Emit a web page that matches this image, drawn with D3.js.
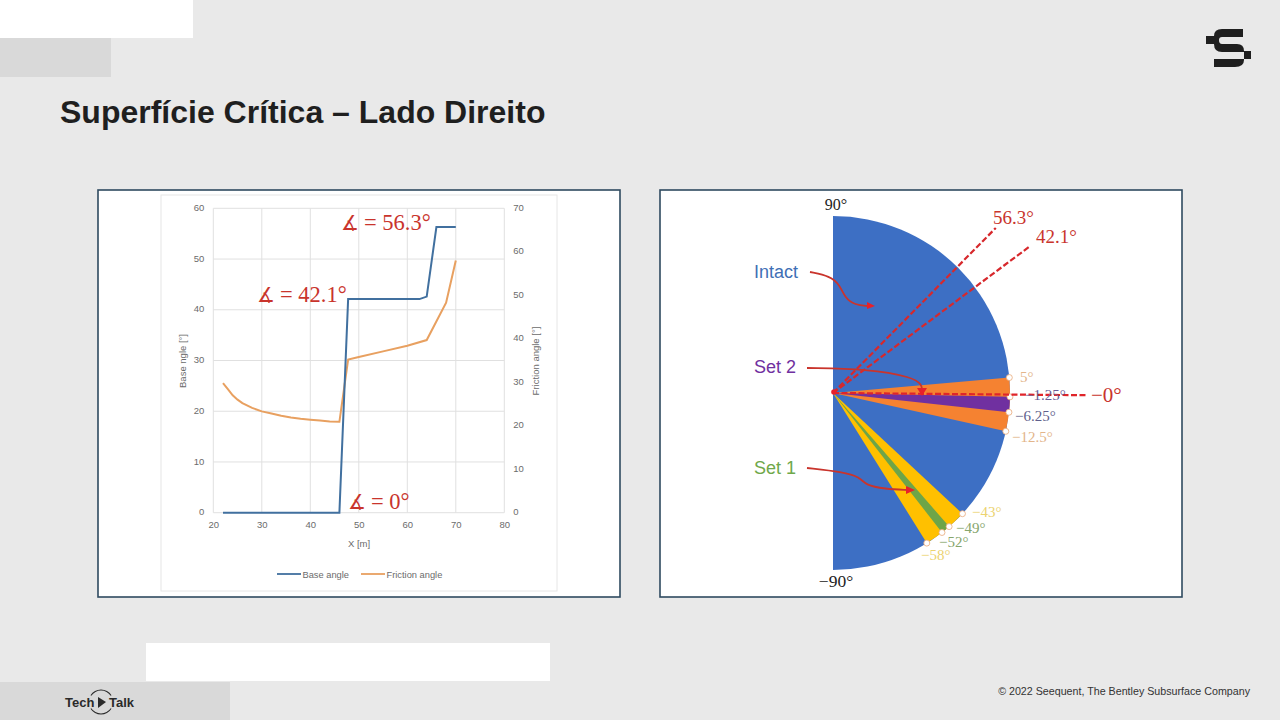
<!DOCTYPE html>
<html>
<head>
<meta charset="utf-8">
<script src="https://cdn.jsdelivr.net/npm/d3@7"></script>
<style>
  html, body { margin: 0; padding: 0; background: #e9e9e9; }
  svg { display: block; }
  text { font-family: "Liberation Sans", Arial, sans-serif; }
  .math { font-family: "Liberation Serif", serif; }
</style>
</head>
<body>
<svg id="slide" width="1280" height="720"></svg>
<script>
// left chart data
const baseX = [22, 46, 47.8, 62.5, 64, 66, 70];
const baseAngle = [0, 0, 42.1, 42.1, 42.6, 56.3, 56.3];
const frictionX = [22, 23, 24, 25, 26, 28, 30, 32, 34, 36, 38, 40, 42, 44, 46, 47.8, 50, 55, 60, 64, 68, 70];
const frictionAngle = [29.8, 28.4, 27, 26, 25.2, 24.1, 23.3, 22.8, 22.3, 21.9, 21.6, 21.4, 21.2, 21, 20.9, 35.2, 35.8, 37.1, 38.4, 39.7, 48.3, 58];
const xTicks = [20, 30, 40, 50, 60, 70, 80];
const leftTicks = [0, 10, 20, 30, 40, 50, 60];
const rightTicks = [0, 10, 20, 30, 40, 50, 60, 70];

// right chart data (degrees)
const orangeBand = [5, -12.5];
const purpleBand = [-1.25, -6.25];
const yellowBand = [-43, -58];
const greenBand = [-49, -52];
const edgeAngles = [5, -1.25, -6.25, -12.5, -43, -49, -52, -58];
const edgeLabels = ["5°", "−1.25°", "−6.25°", "−12.5°", "−43°", "−49°", "−52°", "−58°"];
const edgeColors = ["#e3b58a", "#6a5a96", "#5f5f8c", "#e3b58a", "#ecd36f", "#86a56c", "#86a56c", "#ecd36f"];
const refLabels = ["56.3°", "42.1°", "−0°"];
// the reference lines are hand placed, so they sit off their nominal angle
const refDrawnAngles = [45.4, 36.7, -0.5];
const refReach = [1.31, 1.39, 1.435];

const RED = "#c9342c";
const svg = d3.select("#slide");

function rect(x, y, w, h, fill, stroke) {
  return svg.append("rect").attr("x", x).attr("y", y).attr("width", w).attr("height", h)
    .attr("fill", fill).attr("stroke", stroke || "none");
}

// slide background blocks
rect(0, 0, 1280, 720, "#e9e9e9");
rect(0, 0, 193, 38, "#ffffff");
rect(0, 38, 111, 39, "#d9d9d9");
rect(146, 643, 404, 38, "#ffffff");
rect(0, 682, 230, 38, "#d9d9d9");

svg.append("text").attr("x", 60).attr("y", 123)
  .attr("font-size", 32).attr("font-weight", 700).attr("fill", "#1f1f1f")
  .text("Superfície Crítica – Lado Direito");

// logo
const logo = svg.append("g").attr("fill", "#1f1f1f");
logo.append("path").attr("d", "M1243 29V37H1222Q1219 37 1219 40Q1219 44 1222 44H1237Q1244 44 1244 51V52H1222Q1214 52 1214 44V36Q1214 29 1222 29Z");
logo.append("path").attr("d", "M1214 59H1244V60Q1244 67 1235 67H1214Z");
logo.append("rect").attr("x", 1206).attr("y", 36).attr("width", 8).attr("height", 8);
logo.append("rect").attr("x", 1244).attr("y", 51).attr("width", 7).attr("height", 8);

// tech talk mark
svg.append("text").attr("x", 65).attr("y", 707).attr("font-size", 13).attr("font-weight", 700).attr("fill", "#2a2a2a").text("Tech");
svg.append("text").attr("x", 109).attr("y", 707).attr("font-size", 13).attr("font-weight", 700).attr("fill", "#2a2a2a").text("Talk");
const techArc = d3.arc().innerRadius(11.5).outerRadius(12.5);
[[-1, 1], [Math.PI - 1, Math.PI + 1]].forEach(a => {
  svg.append("path").attr("transform", "translate(101,702)")
    .attr("d", techArc({ startAngle: a[0], endAngle: a[1] })).attr("fill", "#2a2a2a");
});
svg.append("path").attr("d", "M98 697L106 702L98 708Z").attr("fill", "#2a2a2a");

svg.append("text").attr("x", 1250).attr("y", 695).attr("text-anchor", "end")
  .attr("font-size", 10.7).attr("fill", "#333333")
  .text("© 2022 Seequent, The Bentley Subsurface Company");

// panels
rect(98, 190, 522, 407, "#ffffff", "#2f4a60").attr("stroke-width", 1.6);
rect(660, 190, 522, 407, "#ffffff", "#2f4a60").attr("stroke-width", 1.6);
rect(161, 195, 396, 396, "#ffffff", "#e6e6e6");

// ---- left chart ----
const x = d3.scaleLinear().domain([20, 80]).range([213.3, 504.3]);
const yLeft = d3.scaleLinear().domain([0, 60]).range([512.7, 208.3]);
const yRight = d3.scaleLinear().domain([0, 70]).range([512.7, 208.3]);

const grid = svg.append("g").attr("stroke", "#e0e0e0").attr("stroke-width", 1);
grid.selectAll(".gx").data(xTicks).join("line")
  .attr("x1", d => x(d)).attr("x2", d => x(d)).attr("y1", yLeft(0)).attr("y2", yLeft(60));
grid.selectAll(".gy").data(leftTicks).join("line")
  .attr("x1", x(20)).attr("x2", x(80)).attr("y1", d => yLeft(d)).attr("y2", d => yLeft(d));

function styleAxis(g) {
  g.select(".domain").remove();
  g.selectAll(".tick line").remove();
  g.selectAll("text").attr("font-size", 9.5).attr("fill", "#6b6b6b")
    .attr("font-family", '"Liberation Sans", Arial, sans-serif');
}
svg.append("g").attr("transform", `translate(0,${yLeft(0) + 2})`)
  .call(d3.axisBottom(x).tickValues(xTicks).tickSize(0).tickPadding(7)).call(styleAxis);
svg.append("g").attr("transform", `translate(${x(20)},-1)`)
  .call(d3.axisLeft(yLeft).tickValues(leftTicks).tickSize(0).tickPadding(9)).call(styleAxis);
svg.append("g").attr("transform", `translate(${x(80)},-1)`)
  .call(d3.axisRight(yRight).tickValues(rightTicks).tickSize(0).tickPadding(9)).call(styleAxis);

function axisTitle(label, px, py, rotate) {
  svg.append("text").attr("transform", `translate(${px},${py}) rotate(${rotate})`)
    .attr("text-anchor", "middle").attr("font-size", 9.5).attr("fill", "#6b6b6b").text(label);
}
axisTitle("X [m]", 359, 547, 0);
axisTitle("Base ngle [°]", 186, 361, -90);
axisTitle("Friction angle [°]", 539, 361, -90);

const baseLine = d3.line().x(d => x(d[0])).y(d => yLeft(d[1]));
const frictionLine = d3.line().x(d => x(d[0])).y(d => yRight(d[1]));
svg.append("path").attr("d", frictionLine(d3.zip(frictionX, frictionAngle)))
  .attr("fill", "none").attr("stroke", "#e8a060").attr("stroke-width", 2);
svg.append("path").attr("d", baseLine(d3.zip(baseX, baseAngle)))
  .attr("fill", "none").attr("stroke", "#41709f").attr("stroke-width", 2);

// legend
[["Base angle", "#41709f", 277], ["Friction angle", "#e8a060", 361]].forEach(l => {
  svg.append("line").attr("x1", l[2]).attr("x2", l[2] + 24).attr("y1", 574).attr("y2", 574)
    .attr("stroke", l[1]).attr("stroke-width", 1.8);
  svg.append("text").attr("x", l[2] + 25.5).attr("y", 577.5).attr("font-size", 9.3)
    .attr("fill", "#6b6b6b").text(l[0]);
});

// red angle notes on the chart
[["56.3°", 341, 230], ["42.1°", 257, 302], ["0°", 348, 509]].forEach(n => {
  const note = svg.append("text").attr("class", "math").attr("x", n[1]).attr("y", n[2])
    .attr("font-size", 22.5).attr("fill", RED);
  note.append("tspan").attr("font-size", 20).text("∡");
  note.append("tspan").attr("dx", 5).text("= " + n[0]);
});

// ---- right chart ----
const cx = 833, cy = 393;
const angle = d3.scaleLinear().domain([90, -90]).range([0, Math.PI]);
const radius = d3.scaleLinear().domain([0, 1]).range([0, 177]);
const wedge = d3.arc().innerRadius(0).outerRadius(radius(1));
const polar = svg.append("g").attr("transform", `translate(${cx},${cy})`);

function band(range, fill) {
  polar.append("path").attr("fill", fill)
    .attr("d", wedge({ startAngle: angle(range[0]), endAngle: angle(range[1]) }));
}
band([90, -90], "#3d6fc4");
band(orangeBand, "#f58231");
band(purpleBand, "#7030a0");
band(yellowBand, "#ffc000");
band(greenBand, "#6ea548");

function polarPoint(deg, r) {
  const a = angle(deg) - Math.PI / 2;
  return [radius(r) * Math.cos(a), radius(r) * Math.sin(a)];
}

polar.selectAll(".edge").data(edgeAngles).join("circle")
  .attr("cx", d => polarPoint(d, 1)[0]).attr("cy", d => polarPoint(d, 1)[1])
  .attr("r", 3).attr("fill", "#ffffff").attr("stroke", "#e8a878").attr("stroke-width", 0.8);

const edgeLabelAt = [[1020, 382], [1025, 400], [1015, 421], [1012, 442], [972, 517], [956, 533], [939, 547], [921, 560]];
edgeLabels.forEach((t, i) => {
  svg.append("text").attr("class", "math").attr("x", edgeLabelAt[i][0]).attr("y", edgeLabelAt[i][1])
    .attr("font-size", 15).attr("fill", edgeColors[i]).text(t);
});

// dashed reference lines
refDrawnAngles.forEach((a, i) => {
  const p = polarPoint(a, refReach[i]);
  polar.append("line").attr("x1", 0).attr("y1", 0).attr("x2", p[0]).attr("y2", p[1])
    .attr("stroke", i === 2 ? "#e0252a" : "#d7282c").attr("stroke-width", 2.2).attr("stroke-dasharray", "6,2.5");
});
const refLabelAt = [[993, 224], [1036, 243], [1091, 402]];
const refLabelSize = [19, 19, 21];
refLabels.forEach((t, i) => {
  svg.append("text").attr("class", "math").attr("x", refLabelAt[i][0]).attr("y", refLabelAt[i][1])
    .attr("font-size", refLabelSize[i]).attr("fill", RED).text(t);
});

svg.append("text").attr("class", "math").attr("x", 836).attr("y", 210).attr("text-anchor", "middle")
  .attr("font-size", 16).attr("fill", "#222222").text("90°");
svg.append("text").attr("class", "math").attr("x", 836).attr("y", 587).attr("text-anchor", "middle")
  .attr("font-size", 17.5).attr("fill", "#222222").text("−90°");

// set names and their hand drawn arrows
[["Intact", 278, "#3f6fb5"], ["Set 2", 373, "#7030a0"], ["Set 1", 474, "#6fa84a"]].forEach(s => {
  svg.append("text").attr("x", 754).attr("y", s[1]).attr("font-size", 18).attr("fill", s[2]).text(s[0]);
});
const arrow = d3.line().curve(d3.curveBasis);
const arrows = [
  [[810, 272], [830, 276], [840, 285], [845, 298], [855, 305], [868, 306]],
  [[807, 368], [867, 369], [913, 377], [922, 385], [922, 390]],
  [[807, 468], [843, 472], [860, 477], [865, 485], [885, 489], [908, 490]]
];
arrows.forEach(pts => {
  svg.append("path").attr("d", arrow(pts)).attr("fill", "none").attr("stroke", "#c9342c").attr("stroke-width", 1.8);
});
svg.append("path").attr("fill", "#e8202a").attr("d", "M867 302L875 306L867 309Z");
svg.append("path").attr("fill", "#e8202a").attr("d", "M917 388H927L922 396Z");
svg.append("path").attr("fill", "#e8202a").attr("d", "M906 486L915 490L906 494Z");
svg.append("circle").attr("cx", 834).attr("cy", 392).attr("r", 2.8).attr("fill", "#e8202a");
</script>
</body>
</html>
